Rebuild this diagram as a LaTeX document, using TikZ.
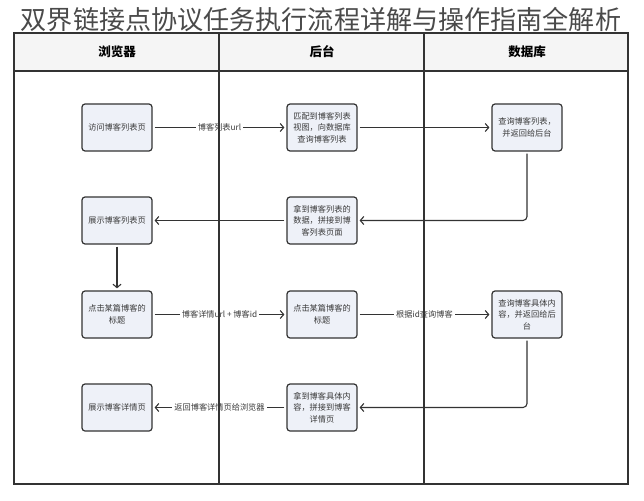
\documentclass[tikz,border=0pt]{standalone}
\usepackage{fontspec}
\setmainfont{Noto Sans CJK SC}
\usetikzlibrary{arrows.meta}

\definecolor{linecol}{HTML}{333333}
\definecolor{boxfill}{HTML}{EEF1F8}
\definecolor{headfill}{HTML}{F5F5F5}
\definecolor{textcol}{HTML}{3A3A3A}
\definecolor{titlecol}{HTML}{4A4A4A}

\begin{document}
\begin{tikzpicture}[x=1pt, y=-1pt,
    box/.style={draw=linecol, line width=1.2pt, fill=boxfill, rounded corners=3pt,
        minimum width=70pt, minimum height=47pt, inner sep=0pt, align=center,
        text=textcol, font=\fontsize{8.2}{11.6}\selectfont},
    flow/.style={draw=linecol, line width=1.1pt, shorten >=2pt, shorten <=2pt,
        -{Straight Barb[length=3.5pt,width=8pt]}},
    tag/.style={fill=white, inner sep=2pt, text=textcol, font=\fontsize{8.2}{10}\selectfont},
    head/.style={font=\fontsize{12.5}{13}\selectfont\bfseries, text=black}]
    \useasboundingbox (0,0) rectangle (644,500);

    % Lanes
    \fill[headfill] (14,33) rectangle (628,71);
    \draw[linecol, line width=1.2pt] (14,33) rectangle (628,484);
    \draw[linecol, line width=1.2pt] (14,71) -- (628,71);
    \node[head] (browser) at (117,52) {浏览器};
    \node[head] (server) at (322,52) {后台};
    \node[head] (db) at (527,52) {数据库};

    % Title
    \node[font=\fontsize{26.1}{27}\selectfont, text=titlecol] (title) at (321,19.5) {双界链接点协议任务执行流程详解与操作指南全解析};

    % Nodes
    \node[box] (visit) at (117,127.5) {访问博客列表页};
    \node[box] (match) at (322,127.5) {匹配到博客列表\\视图，向数据库\\查询博客列表};
    \node[box] (querylist) at (527,127.5) {查询博客列表，\\并返回给后台};
    \node[box] (gotlist) at (322,220.5) {拿到博客列表的\\数据，拼接到博\\客列表页面};
    \node[box] (showlist) at (117,220.5) {展示博客列表页};
    \node[box] (click) at (117,314.5) {点击某篇博客的\\标题};
    \node[box] (clickback) at (322,314.5) {点击某篇博客的\\标题};
    \node[box] (querypost) at (527,314.5) {查询博客具体内\\容，并返回给后\\台};
    \node[box] (gotpost) at (322,407.5) {拿到博客具体内\\容，拼接到博客\\详情页};
    \node[box] (showpost) at (117,407.5) {展示博客详情页};

    % Edges
    \draw[flow] (visit) -- node[tag] {博客列表url} (match);
    \draw[flow] (match) -- (querylist);
    \draw[flow, rounded corners=4pt] (querylist.south) |- (gotlist.east);
    \draw[flow] (gotlist) -- (showlist);
    \draw[flow] (showlist) -- (click);
    \draw[flow] (click) -- node[tag] {博客详情url + 博客id} (clickback);
    \draw[flow] (clickback) -- node[tag] {根据id查询博客} (querypost);
    \draw[flow, rounded corners=4pt] (querypost.south) |- (gotpost.east);
    \draw[flow] (gotpost) -- node[tag] {返回博客详情页给浏览器} (showpost);

    % Lane dividers on top
    \draw[linecol, line width=1.2pt] (219,33) -- (219,484);
    \draw[linecol, line width=1.2pt] (424,33) -- (424,484);
\end{tikzpicture}
\end{document}
